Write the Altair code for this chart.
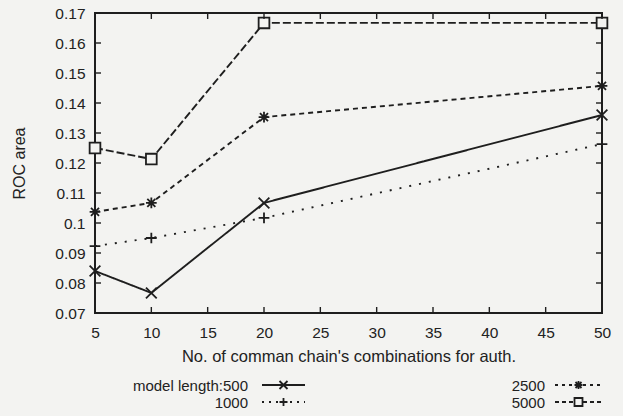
import altair as alt
import pandas as pd

# ---- data ----
x_vals = [5, 10, 20, 50]
series = ["500", "1000", "2500", "5000"]
roc_500 = [0.084, 0.0767, 0.1067, 0.136]
roc_1000 = [0.0923, 0.095, 0.1017, 0.1263]
roc_2500 = [0.1037, 0.1067, 0.1353, 0.1457]
roc_5000 = [0.125, 0.1213, 0.1667, 0.1667]
x_ticks = [5, 10, 15, 20, 25, 30, 35, 40, 45, 50]
y_ticks = [0.07, 0.08, 0.09, 0.10, 0.11, 0.12, 0.13, 0.14, 0.15, 0.16, 0.17]
legend_prefix = "model length:"

values = {"500": roc_500, "1000": roc_1000, "2500": roc_2500, "5000": roc_5000}
rows = []
for s in series:
    for xv, yv in zip(x_vals, values[s]):
        rows.append({"series": s, "x": xv, "y": yv})
df = pd.DataFrame(rows)
df_xt = pd.DataFrame({"x": x_ticks})
df_yt = pd.DataFrame({"y": y_ticks})
one = pd.DataFrame({"a": [0]})

BG = "#f3f3f1"
INK = "#1e1e1e"
TXT = "#222222"
FONT = "Liberation Sans"
W, H = 507, 300

dashes = [[1, 0], [2, 8], [5, 4], [8, 3]]
leg_dashes = [[1, 0], [2, 5], [3, 4], [4, 3]]
paths = [
    "M-1,-1L1,1M-1,1L1,-1",
    "M-1,0L1,0M0,-1L0,1",
    "M-1,0L1,0M0,-1L0,1M-0.75,-0.75L0.75,0.75M-0.75,0.75L0.75,-0.75",
    "M-1,-1H1V1H-1Z",
]

xs = alt.Scale(domain=[5, 50], nice=False, zero=False)
ys = alt.Scale(domain=[0.07, 0.17], nice=False, zero=False)
xax = alt.Axis(values=x_ticks, title="No. of comman chain's combinations for auth.",
               ticks=False, tickSize=0, domain=False, grid=False,
               labelFontSize=15.5, labelPadding=12, labelFlush=False,
               labelColor=TXT, labelFont=FONT,
               titleFontSize=16.5, titlePadding=8, titleFontWeight="normal",
               titleColor=TXT, titleFont=FONT)
yax = alt.Axis(values=y_ticks, title="ROC area", format=".2~f",
               ticks=False, tickSize=0, domain=False, grid=False,
               labelFontSize=15.5, labelPadding=10, labelFlush=False,
               labelColor=TXT, labelFont=FONT,
               titleFontSize=16, titlePadding=27, titleFontWeight="normal",
               titleColor=TXT, titleFont=FONT)

X = alt.X("x:Q", scale=xs, axis=xax)
Y = alt.Y("y:Q", scale=ys, axis=yax)

lines = alt.Chart(df).mark_line(color=INK, strokeWidth=1.9).encode(
    x=X, y=Y,
    strokeDash=alt.StrokeDash("series:N", scale=alt.Scale(domain=series, range=dashes), legend=None),
)
points = alt.Chart(df).mark_point(filled=True, fill=BG, stroke=INK, strokeWidth=1.8,
                                  size=115, opacity=1, fillOpacity=1, strokeOpacity=1).encode(
    x=X, y=Y,
    shape=alt.Shape("series:N", scale=alt.Scale(domain=series, range=paths), legend=None),
)

tick_len = 6
xt_bot = alt.Chart(df_xt).mark_rule(color=INK, strokeWidth=1.4).encode(
    x=X, y=alt.value(H), y2=alt.value(H - tick_len))
xt_top = alt.Chart(df_xt).mark_rule(color=INK, strokeWidth=1.4).encode(
    x=X, y=alt.value(0), y2=alt.value(tick_len))
yt_left = alt.Chart(df_yt).mark_rule(color=INK, strokeWidth=1.4).encode(
    y=Y, x=alt.value(0), x2=alt.value(tick_len))
yt_right = alt.Chart(df_yt).mark_rule(color=INK, strokeWidth=1.4).encode(
    y=Y, x=alt.value(W), x2=alt.value(W - tick_len))

# ---- manual legend (two columns, label left of sample) ----
leg_pos = [  # (text right x, sample x0, sample x1, row y)
    (153, 167, 210, 372),
    (153, 167, 210, 389),
    (450, 460, 507, 372),
    (450, 460, 507, 389),
]
leg_layers = []
for i, s in enumerate(series):
    tx, sx0, sx1, ry = leg_pos[i]
    label = (legend_prefix + s) if i == 0 else s
    leg_layers.append(
        alt.Chart(one).mark_text(align="right", baseline="middle", fontSize=15,
                                 font=FONT, color=TXT).encode(
            x=alt.value(tx), y=alt.value(ry + 1), text=alt.value(label)))
    leg_layers.append(
        alt.Chart(one).mark_rule(color=INK, strokeWidth=1.8, strokeDash=leg_dashes[i]).encode(
            x=alt.value(sx0), x2=alt.value(sx1), y=alt.value(ry)))
    leg_layers.append(
        alt.Chart(one).mark_point(filled=True, fill=BG, stroke=INK, strokeWidth=1.8,
                                  size=64, opacity=1, shape=paths[i]).encode(
            x=alt.value((sx0 + sx1) / 2), y=alt.value(ry)))

chart = alt.layer(lines, points, xt_bot, xt_top, yt_left, yt_right, *leg_layers).properties(
    width=W, height=H,
    autosize=alt.AutoSizeParams(type="none"),
    padding={"left": 95, "top": 13, "right": 21, "bottom": 103},
    background=BG,
).configure_view(stroke=INK, strokeWidth=2)

chart.save("out.html", embed_options={"renderer": "svg", "actions": False})
